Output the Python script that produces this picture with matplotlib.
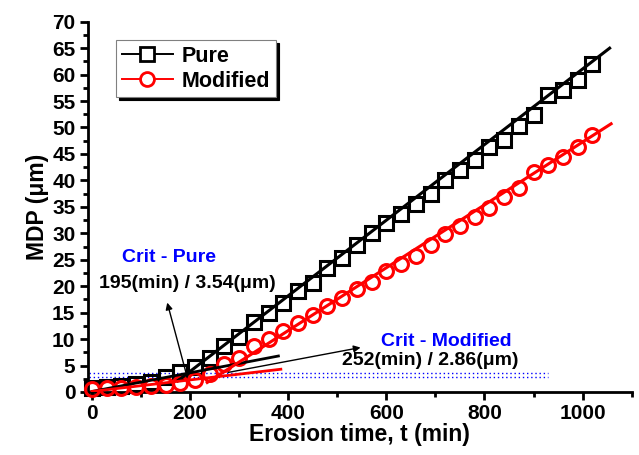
import matplotlib
matplotlib.use("Agg")
import matplotlib.pyplot as plt
from matplotlib.lines import Line2D
from matplotlib.ticker import MultipleLocator

plt.rcParams['font.family'] = ['Liberation Sans', 'DejaVu Sans']
plt.rcParams['font.weight'] = 'bold'

# erosion time (min)
t = [0, 30, 60, 90, 120, 150, 180, 210, 240, 270, 300, 330, 360, 390, 420, 450,
     480, 510, 540, 570, 600, 630, 660, 690, 720, 750, 780, 810, 840, 870, 900,
     930, 960, 990, 1020]
pure = [0.8, 1.0, 1.2, 1.5, 1.9, 2.9, 3.8, 4.8, 6.4, 8.6, 10.4, 13.3, 14.9, 16.8,
        19.0, 20.6, 23.4, 25.3, 27.8, 30.0, 32.0, 33.6, 35.5, 37.5, 40.0, 41.9,
        43.9, 46.3, 47.7, 50.2, 52.4, 56.2, 57.1, 59.0, 62.0]
modified = [0.6, 0.7, 0.8, 1.0, 1.1, 1.4, 1.7, 2.3, 3.4, 5.2, 6.4, 8.6, 10.0, 11.5,
            13.0, 14.5, 16.3, 17.8, 19.4, 20.7, 22.8, 24.2, 25.8, 27.7, 29.8, 31.4,
            33.1, 34.8, 36.8, 38.5, 41.5, 42.9, 44.5, 46.4, 48.6]

# fitted lines (x ends, y ends)
pure_early_x = [0, 380]
pure_early_y = [0.1, 6.8]
pure_late_x = [175, 1055]
pure_late_y = [2.1, 65.0]
mod_early_x = [0, 385]
mod_early_y = [0.1, 4.3]
mod_late_x = [235, 1058]
mod_late_y = [1.8, 50.7]

crit_pure = (195, 3.54)
crit_mod = (252, 2.86)

fig = plt.figure(figsize=(6.39, 4.55), dpi=100)
ax = fig.add_axes([0.1377, 0.1385, 0.8509, 0.8138])

ax.plot(t, pure, ls='none', marker='s', ms=10, mfc='none', mec='black', mew=2.2,
        clip_on=False, zorder=3)
ax.plot(t, modified, ls='none', marker='o', ms=10, mfc='none', mec='red', mew=2.2,
        clip_on=False, zorder=3)

ax.plot(pure_early_x, pure_early_y, color='black', lw=2, zorder=4)
ax.plot(pure_late_x, pure_late_y, color='black', lw=2.2, zorder=4)
ax.plot(mod_early_x, mod_early_y, color='red', lw=2, zorder=4)
ax.plot(mod_late_x, mod_late_y, color='red', lw=2.2, zorder=4)

ax.plot([-5, 930], [crit_pure[1]] * 2, color='blue', ls=(0, (1, 2)), lw=1)
ax.plot([-5, 930], [crit_mod[1]] * 2, color='blue', ls=(0, (1, 2)), lw=1)

ax.annotate('', xy=(152, 17.4), xytext=(193, 3.2),
            arrowprops=dict(arrowstyle='-|>', color='black', lw=1,
                            mutation_scale=10), zorder=5)
ax.annotate('', xy=(553, 8.5), xytext=(272, 3.6),
            arrowprops=dict(arrowstyle='-|>', color='black', lw=1,
                            mutation_scale=10), zorder=5)

ax.text(157, 25.5, 'Crit - Pure', color='blue', fontsize=14, fontweight='bold',
        ha='center', va='center')
ax.text(194, 20.6, '195(min) / 3.54(μm)', color='black', fontsize=14,
        fontweight='bold', ha='center', va='center')
ax.text(723, 9.6, 'Crit - Modified', color='blue', fontsize=14, fontweight='bold',
        ha='center', va='center')
ax.text(690, 5.9, '252(min) / 2.86(μm)', color='black', fontsize=14,
        fontweight='bold', ha='center', va='center')

ax.set_xlim(-8, 1100)
ax.set_ylim(0, 70)
ax.xaxis.set_major_locator(MultipleLocator(200))
ax.xaxis.set_minor_locator(MultipleLocator(100))
ax.yaxis.set_major_locator(MultipleLocator(5))
ax.yaxis.set_minor_locator(MultipleLocator(2.5))
for s in ['top', 'right']:
    ax.spines[s].set_visible(False)
for s in ['left', 'bottom']:
    ax.spines[s].set_linewidth(2)
ax.tick_params(which='major', direction='out', length=6, width=2, labelsize=15,
               pad=3)
ax.tick_params(which='minor', direction='out', length=3.5, width=2)
for lab in ax.get_xticklabels() + ax.get_yticklabels():
    lab.set_fontweight('bold')

ax.set_xlabel('Erosion time, t (min)', fontsize=16.5, fontweight='bold', labelpad=0)
ax.set_ylabel('MDP (μm)', fontsize=16.5, fontweight='bold', labelpad=2)

handles = [
    Line2D([], [], color='black', lw=1.4, marker='s', ms=10, mfc='white', mec='black', mew=2),
    Line2D([], [], color='red', lw=1.4, marker='o', ms=10, mfc='white', mec='red', mew=2),
]
leg = ax.legend(handles, ['Pure', 'Modified'], loc='upper left',
                bbox_to_anchor=(0.052, 0.95), borderaxespad=0, fancybox=False,
                shadow={'color': 'black', 'alpha': 1}, edgecolor='gray',
                framealpha=1, prop={'size': 15.5, 'weight': 'bold'},
                handlelength=2.4, labelspacing=0.2, borderpad=0.25,
                handletextpad=0.4)
leg.get_frame().set_linewidth(0.8)

fig.savefig('out.png', dpi=100)
